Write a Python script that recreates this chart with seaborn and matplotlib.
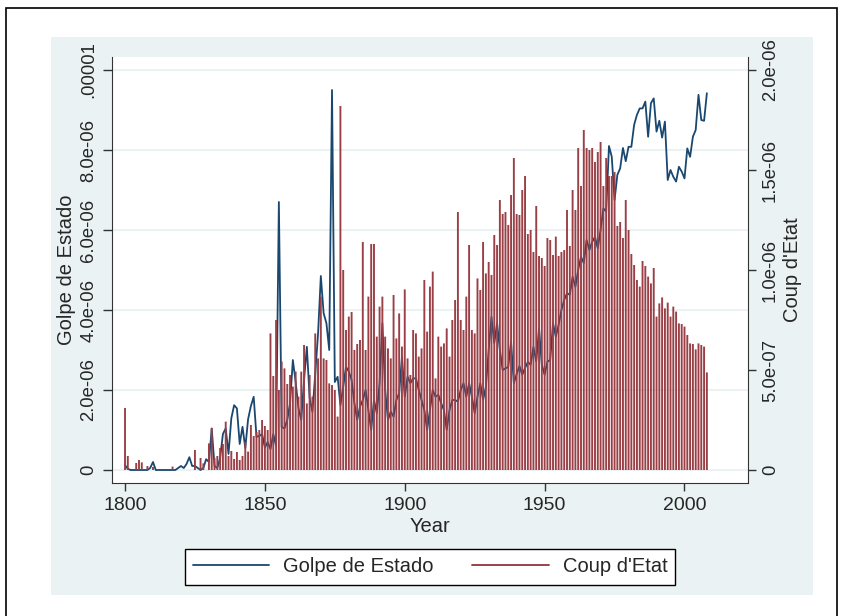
import numpy as np
import seaborn as sns
import matplotlib.pyplot as plt
from matplotlib.lines import Line2D
from matplotlib.patches import Rectangle

# data: one value per year 1800-2008
years = list(range(1800, 2009))

# Golpe de Estado (left axis, x 1e-6)
golpe = [0.12, 0.03, 0, 0, 0, 0, 0, 0, 0, 0.05,
         0.2, 0, 0, 0, 0, 0, 0, 0, 0, 0.05,
         0.1, 0.05, 0.15, 0.32, 0.1, 0.1, 0.05, 0, 0.05, 0.27,
         0.2, 1.04, 0.1, 0.05, 0.3, 0.9, 1.04, 0.4, 1.29, 1.62,
         1.54, 0.65, 1.08, 0.55, 1.27, 1.6, 1.83, 0.83, 0.85, 0.9,
         0.56, 0.7, 0.52, 0.9, 0.6, 6.7, 1.08, 1.04, 1.25, 1.67,
         2.75, 2.2, 1.55, 1.25, 2.25, 3.08, 1.8, 1.45, 2.4, 3.4,
         4.85, 3.92, 3.67, 3.0, 9.5, 2.2, 2.33, 1.62, 2.08, 2.58,
         2.46, 2.25, 1.67, 1.25, 1.58, 1.75, 2.0, 1.5, 1.0, 1.75,
         1.42, 2.17, 3.67, 2.0, 1.25, 1.46, 1.33, 1.75, 1.92, 2.83,
         1.83, 2.33, 2.17, 2.29, 2.29, 2.0, 1.75, 1.5, 1.0, 1.5,
         2.0, 1.83, 1.88, 1.67, 1.5, 1.0, 1.5, 1.75, 1.75, 1.71,
         2.0, 2.17, 1.83, 2.17, 1.83, 1.42, 1.83, 2.17, 1.75, 2.08,
         3.0, 3.83, 3.17, 3.67, 3.0, 2.5, 2.54, 2.58, 3.2, 2.17,
         2.4, 2.6, 2.38, 2.55, 2.7, 2.63, 3.08, 2.71, 3.54, 2.63,
         2.38, 2.71, 2.75, 3.67, 3.33, 3.63, 4.0, 4.25, 4.42, 4.38,
         4.83, 4.58, 5.0, 5.33, 5.17, 5.75, 5.5, 5.7, 5.83, 5.54,
         6.0, 6.54, 6.46, 8.1, 7.83, 6.75, 7.38, 7.54, 8.05, 7.72,
         8.08, 8.08, 8.63, 8.88, 9.04, 9.04, 9.21, 8.33, 9.17, 9.29,
         8.46, 8.73, 8.31, 8.71, 7.25, 7.5, 7.33, 7.21, 7.58, 7.46,
         7.29, 8.04, 7.83, 8.33, 8.5, 9.38, 8.75, 8.73, 9.42]

# Coup d'Etat (right axis, x 1e-7)
coup = [3.1, 0.7, 0, 0, 0.35, 0.5, 0.38, 0, 0.2, 0,
        0.15, 0, 0, 0, 0, 0, 0, 0.17, 0, 0,
        0, 0, 0, 0, 0, 1.0, 0, 0.6, 0.33, 0,
        1.33, 2.1, 0.6, 0.7, 1.1, 1.3, 2.42, 0.7, 0.95, 0.55,
        0.9, 0.5, 0.7, 1.4, 0.92, 2.25, 1.7, 1.9, 2.0, 2.5,
        2.2, 2.0, 6.83, 4.7, 7.5, 4.0, 5.42, 5.08, 4.3, 4.75,
        4.17, 4.92, 3.67, 4.92, 6.25, 3.33, 4.75, 3.67, 6.83, 5.58,
        8.67, 5.58, 5.5, 4.33, 4.25, 4.0, 2.67, 18.2, 10.0, 7.0,
        7.67, 7.9, 6.0, 6.3, 6.5, 11.4, 6.0, 8.67, 11.3, 11.3,
        6.67, 8.17, 8.67, 6.67, 6.08, 5.58, 8.75, 6.58, 7.83, 6.17,
        9.03, 5.58, 4.75, 7.0, 6.83, 5.67, 6.08, 9.5, 6.92, 9.17,
        9.92, 4.58, 6.67, 6.17, 6.33, 7.08, 5.67, 7.5, 8.5, 12.9,
        7.5, 7.0, 8.67, 11.25, 7.0, 6.83, 9.58, 9.0, 11.4, 9.83,
        10.4, 9.75, 11.75, 11.25, 13.5, 12.8, 12.9, 12.25, 13.75, 15.6,
        12.8, 12.75, 14.0, 14.7, 11.8, 12.0, 10.9, 13.2, 10.7, 10.6,
        10.2, 11.6, 11.5, 10.75, 11.67, 10.7, 10.9, 11.0, 13.0, 11.2,
        14.0, 13.0, 16.1, 14.2, 17.0, 16.1, 16.0, 16.1, 15.4, 15.9,
        16.4, 14.2, 15.6, 14.7, 14.7, 14.9, 12.2, 12.4, 11.6, 13.5,
        12.0, 10.8, 10.25, 9.5, 9.17, 10.45, 10.2, 9.67, 9.33, 10.1,
        7.67, 8.33, 8.63, 8.08, 8.37, 7.67, 8.17, 7.92, 7.33, 7.3,
        7.17, 6.75, 6.33, 6.3, 6.03, 6.33, 6.25, 6.17, 4.88]

left_ticks = [0, 2e-6, 4e-6, 6e-6, 8e-6, 1e-5]
left_labels = ["0", "2.0e-06", "4.0e-06", "6.0e-06", "8.0e-06", ".00001"]
right_ticks = [0, 5e-7, 1e-6, 1.5e-6, 2e-6]
right_labels = ["0", "5.0e-07", "1.0e-06", "1.5e-06", "2.0e-06"]
x_ticks = [1800, 1850, 1900, 1950, 2000]

navy = "#1A476F"
maroon = "#90353B"
bg = "#EAF2F3"

sns.set_style("white")
plt.rcParams['font.family'] = ['Liberation Sans', 'DejaVu Sans']

W, H = 847, 616
fig = plt.figure(figsize=(W / 100, H / 100), dpi=100, facecolor="white")

# graph region + outer frame
fig.add_artist(Rectangle((51 / W, 1 - 595 / H), 762 / W, 558 / H, transform=fig.transFigure,
                         facecolor=bg, edgecolor="none", zorder=0))
fig.add_artist(Rectangle((5.5 / W, -0.05), 831 / W, 1.05 - 8.5 / H, transform=fig.transFigure,
                         fill=False, edgecolor="black", lw=1.2, zorder=5))

ax = fig.add_axes([112 / W, 1 - 483 / H, 636 / W, 426 / H])
ax.set_facecolor("white")
ax2 = ax.twinx()

golpe_v = np.array(golpe) * 1e-6
coup_v = np.array(coup) * 1e-7

sns.lineplot(x=years, y=golpe_v, ax=ax, color=navy, lw=1.3, estimator=None, legend=False)
sns.barplot(x=years, y=coup_v, ax=ax2, native_scale=True, width=0.68, color=maroon,
            saturation=1, errorbar=None, edgecolor="none", linewidth=0, facecolor="#9A3F46")
for p in ax2.patches:
    p.set_snap(False)

ax.set_xlim(1795.35, 2022.7)
ax.set_ylim(-0.325e-6, 10.325e-6)
ax2.set_ylim(-0.065e-6, 2.065e-6)

ax.set_xticks(x_ticks)
ax.set_xticklabels([str(t) for t in x_ticks], fontsize=14)
ax.set_yticks(left_ticks)
ax.set_yticklabels(left_labels, rotation=90, va="center", fontsize=13.3)
ax2.set_yticks(right_ticks)
ax2.set_yticklabels(right_labels, rotation=90, va="center", fontsize=13.3)

ax.grid(axis="y", color=bg, lw=1.5)
ax.grid(axis="x", visible=False)
ax2.grid(False)

ax.tick_params(axis="y", length=6.5, width=1, pad=4, direction="out", color="#333333", left=True)
ax.tick_params(axis="x", length=6, width=1, pad=4, direction="out", color="#333333", bottom=True)
ax2.tick_params(axis="y", length=6, width=1, pad=4, direction="out", color="#333333", right=True)

for a in (ax, ax2):
    a.spines["top"].set_visible(False)
ax.spines["right"].set_visible(False)
ax2.spines["left"].set_visible(False)
ax2.spines["bottom"].set_visible(False)
for s in ("left", "bottom"):
    ax.spines[s].set_color("#333333")
ax2.spines["right"].set_color("#333333")

ax.set_xlabel("Year", fontsize=14.5, labelpad=2)
ax.set_ylabel("Golpe de Estado", fontsize=14.5, labelpad=3)
ax2.set_ylabel("Coup d'Etat", fontsize=14.5, labelpad=3)

handles = [Line2D([], [], color=navy, lw=1.3), Line2D([], [], color=maroon, lw=1.3)]
leg = fig.legend(handles, ["Golpe de Estado", "Coup d'Etat"], loc="center",
                 bbox_to_anchor=(430 / W, 1 - 567 / H), ncol=2, frameon=True, fancybox=False,
                 edgecolor="black", framealpha=1, fontsize=14.5, handlelength=3.8,
                 handletextpad=0.7, columnspacing=1.9, borderpad=0.4)
leg.get_frame().set_linewidth(1.0)

fig.savefig("out.png", dpi=100, facecolor="white")
